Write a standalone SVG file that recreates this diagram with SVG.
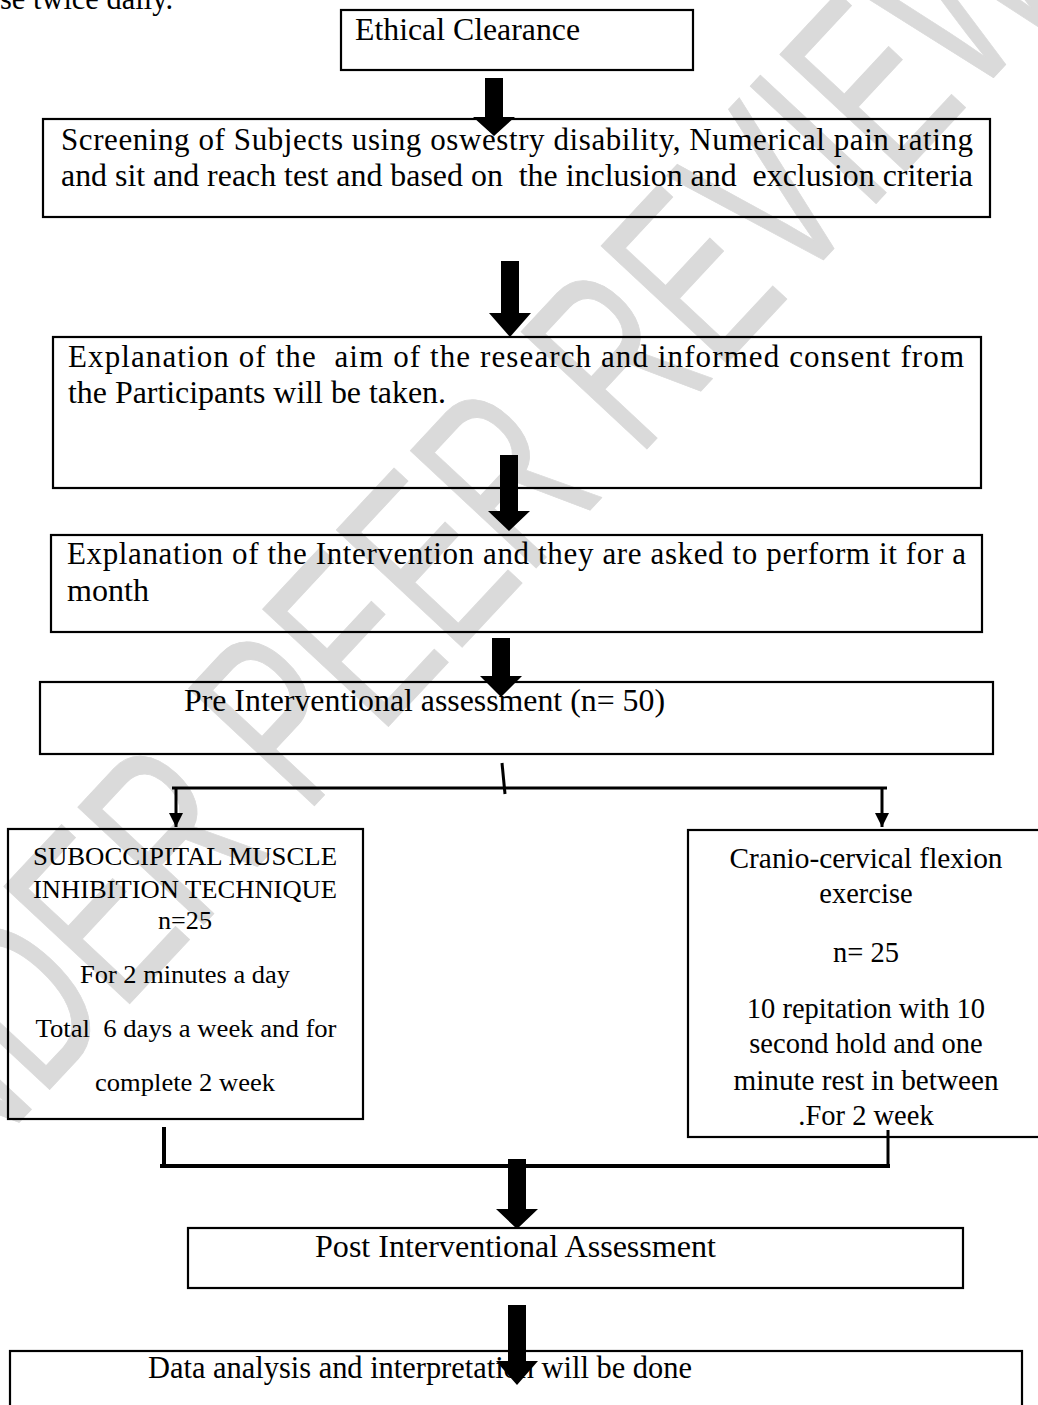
<svg xmlns="http://www.w3.org/2000/svg" width="1038" height="1405" viewBox="0 0 1038 1405">
<style>
.box{fill:none;stroke:#000;stroke-width:2.2}
.t{font-family:"Liberation Serif","Times New Roman",serif;font-size:31px;fill:#000;white-space:pre}
.s{font-family:"Liberation Serif","Times New Roman",serif;font-size:25px;fill:#000;white-space:pre;text-anchor:middle}
.c{font-family:"Liberation Serif","Times New Roman",serif;font-size:28.5px;fill:#000;white-space:pre;text-anchor:middle}
.blk{fill:#000;stroke:none}
.ln{fill:none;stroke:#000;stroke-width:3}
.wm{font-family:"Liberation Sans",Arial,sans-serif;font-size:250px;fill:#dadada;stroke:#dadada;stroke-width:1;stroke-linejoin:round;text-anchor:end}
</style>
<defs>
<marker id="ah" viewBox="0 0 10 10" refX="10" refY="5" markerWidth="5" markerHeight="4.7" orient="auto" markerUnits="strokeWidth">
<path d="M0,0 L10,5 L0,10 z" fill="#000"/>
</marker>
</defs>
<rect width="1038" height="1405" fill="#fff"/>
<g id="watermark">
<text class="wm" transform="translate(1075,-10) rotate(-47) scale(0.65,1)" x="0" y="0">UNDER PEER REVIEW</text>
</g>
<text class="t" x="0" y="9" textLength="173" lengthAdjust="spacingAndGlyphs">se twice daily.</text>
<g id="n1">
<rect class="box" x="341" y="10" width="352" height="60"/>
<text class="t" x="355" y="40" textLength="225" lengthAdjust="spacingAndGlyphs">Ethical Clearance</text>
</g>
<g id="n2">
<rect class="box" x="43" y="119" width="947" height="98"/>
<text class="t" x="61" y="150" textLength="912" lengthAdjust="spacing">Screening of Subjects using oswestry disability, Numerical pain rating</text>
<text class="t" x="61" y="186" textLength="912" lengthAdjust="spacingAndGlyphs">and sit and reach test and based on  the inclusion and  exclusion criteria</text>
</g>
<g id="n3">
<rect class="box" x="53" y="337" width="928" height="151"/>
<text class="t" x="68" y="367" textLength="896" lengthAdjust="spacing">Explanation of the  aim of the research and informed consent from</text>
<text class="t" x="68" y="403" textLength="378" lengthAdjust="spacingAndGlyphs">the Participants will be taken.</text>
</g>
<g id="n4">
<rect class="box" x="51" y="535" width="931" height="97"/>
<text class="t" x="67" y="564" textLength="899" lengthAdjust="spacing">Explanation of the Intervention and they are asked to perform it for a</text>
<text class="t" x="67" y="601" textLength="82" lengthAdjust="spacingAndGlyphs">month</text>
</g>
<g id="n5">
<rect class="box" x="40" y="682" width="953" height="72"/>
<text class="t" x="184" y="711" textLength="481" lengthAdjust="spacingAndGlyphs">Pre Interventional assessment (n= 50)</text>
</g>
<g id="n6">
<rect class="box" x="8" y="829" width="355" height="290"/>
<text class="s" x="185" y="865" textLength="304" lengthAdjust="spacingAndGlyphs">SUBOCCIPITAL MUSCLE</text>
<text class="s" x="185" y="898" textLength="304" lengthAdjust="spacingAndGlyphs">INHIBITION TECHNIQUE</text>
<text class="s" x="185" y="929" textLength="54" lengthAdjust="spacingAndGlyphs">n=25</text>
<text class="s" x="185" y="983" textLength="210" lengthAdjust="spacingAndGlyphs">For 2 minutes a day</text>
<text class="s" x="186" y="1037" textLength="301" lengthAdjust="spacingAndGlyphs">Total  6 days a week and for</text>
<text class="s" x="185" y="1091" textLength="180" lengthAdjust="spacingAndGlyphs">complete 2 week</text>
</g>
<g id="n7">
<rect class="box" x="688" y="830" width="360" height="307"/>
<text class="c" x="866" y="868" textLength="273" lengthAdjust="spacingAndGlyphs">Cranio-cervical flexion</text>
<text class="c" x="866" y="903">exercise</text>
<text class="c" x="866" y="962">n= 25</text>
<text class="c" x="866" y="1018">10 repitation with 10</text>
<text class="c" x="866" y="1053">second hold and one</text>
<text class="c" x="866" y="1090" textLength="265" lengthAdjust="spacingAndGlyphs">minute rest in between</text>
<text class="c" x="866" y="1125">.For 2 week</text>
</g>
<g id="n8">
<rect class="box" x="188" y="1228" width="775" height="60"/>
<text class="t" x="315" y="1257" textLength="401" lengthAdjust="spacingAndGlyphs">Post Interventional Assessment</text>
</g>
<g id="n9">
<rect class="box" x="10" y="1351" width="1012" height="80"/>
<text class="t" x="148" y="1378" textLength="544" lengthAdjust="spacingAndGlyphs">Data analysis and interpretation will be done</text>
</g>
<g id="connectors">
<polygon class="blk" points="485,78 503,78 503,117 515,117 494,136 473,117 485,117"/>
<polygon class="blk" points="501,261 519,261 519,313 531,313 510,337 489,313 501,313"/>
<polygon class="blk" points="500,455 518,455 518,511 530,511 509,531 488,511 500,511"/>
<polygon class="blk" points="492,638 510,638 510,676 522,676 501,697 480,676 492,676"/>
<line class="ln" x1="502" y1="763" x2="505" y2="794"/>
<line class="ln" x1="172" y1="788" x2="887" y2="788"/>
<line class="ln" x1="176" y1="788" x2="176" y2="827" marker-end="url(#ah)"/>
<line class="ln" x1="882" y1="788" x2="882" y2="827" marker-end="url(#ah)"/>
<line class="ln" x1="164" y1="1127" x2="164" y2="1168" style="stroke-width:4"/>
<line class="ln" x1="160" y1="1166" x2="890" y2="1166" style="stroke-width:4"/>
<line class="ln" x1="888" y1="1130" x2="888" y2="1168"/>
<polygon class="blk" points="508,1159 526,1159 526,1209 538,1209 517,1229 496,1209 508,1209"/>
<polygon class="blk" points="508,1305 526,1305 526,1361 538,1361 517,1385 496,1361 508,1361"/>
</g>
</svg>
